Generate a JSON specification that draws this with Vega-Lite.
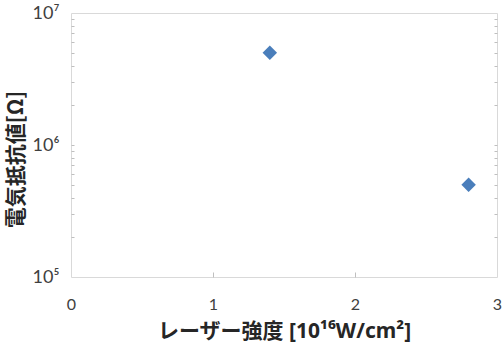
{
  "$schema": "https://vega.github.io/schema/vega-lite/v6.json",
  "width": 426,
  "height": 264,
  "autosize": {"type": "none"},
  "padding": {"left": 71, "top": 13, "right": 6, "bottom": 67},
  "background": "white",
  "config": {
    "view": {"stroke": "#d9d9d9", "strokeWidth": 1},
    "axis": {"grid": false, "domain": false, "labelFont": "Lato", "labelColor": "#404040", "labelFontSize": 16, "titleColor": "#262626"},
    "axisLeft": {"labelFontSize": 18, "labelFont": "Lato"}
  },
  "data": {"values": [
    {"intensity": 1.4, "resistance": 5000000},
    {"intensity": 2.8, "resistance": 500000}
  ]},
  "resolve": {"axis": {"x": "independent", "y": "independent"}},
  "layer": [
    {
      "mark": {"type": "point", "shape": "diamond", "filled": true, "size": 210, "color": "#4a7ebb", "opacity": 1},
      "encoding": {
        "x": {"field": "intensity", "type": "quantitative", "scale": {"domain": [0, 3], "nice": false, "zero": false},
          "axis": {"orient": "bottom", "values": [0, 1, 2, 3], "ticks": false, "labelPadding": 19, "labelFlush": false,
            "title": "レーザー強度 [10¹⁶W/cm²]", "titleFont": "Noto Sans, Noto Sans CJK JP", "titleFontWeight": "bold", "titleFontSize": 21, "titlePadding": 8}},
        "y": {"field": "resistance", "type": "quantitative", "scale": {"type": "log", "domain": [100000, 10000000], "nice": false},
          "axis": {"orient": "left", "values": [100000, 1000000, 10000000], "ticks": false, "labelPadding": 12, "labelFlush": false,
            "labelFontSize": 18,
            "labelExpr": "datum.value == 100000 ? '10⁵' : datum.value == 1000000 ? '10⁶' : '10⁷'",
            "title": "電気抵抗値[Ω]", "titleFont": "Noto Sans CJK JP", "titleFontWeight": "bold", "titleFontSize": 21, "titleY": 146, "titlePadding": 6}}
      }
    },
    {
      "mark": {"type": "point", "opacity": 0},
      "encoding": {
        "x": {"field": "intensity", "type": "quantitative",
          "axis": {"orient": "bottom", "values": [1, 2], "labels": false, "title": null, "tickSize": -5, "tickColor": "#bfbfbf"}},
        "y": {"field": "resistance", "type": "quantitative",
          "axis": {"orient": "left", "values": [200000, 300000, 400000, 500000, 600000, 700000, 800000, 900000, 1000000, 2000000, 3000000, 4000000, 5000000, 6000000, 7000000, 8000000, 9000000], "labels": false, "title": null, "tickSize": -3, "tickColor": "#bfbfbf"}}
      }
    },
    {
      "mark": {"type": "point", "opacity": 0},
      "encoding": {
        "x": {"field": "intensity", "type": "quantitative", "axis": null},
        "y": {"field": "resistance", "type": "quantitative",
          "axis": {"orient": "right", "values": [200000, 300000, 400000, 500000, 600000, 700000, 800000, 900000, 1000000, 2000000, 3000000, 4000000, 5000000, 6000000, 7000000, 8000000, 9000000], "labels": false, "title": null, "tickSize": -3, "tickColor": "#bfbfbf"}}
      }
    }
  ]
}
